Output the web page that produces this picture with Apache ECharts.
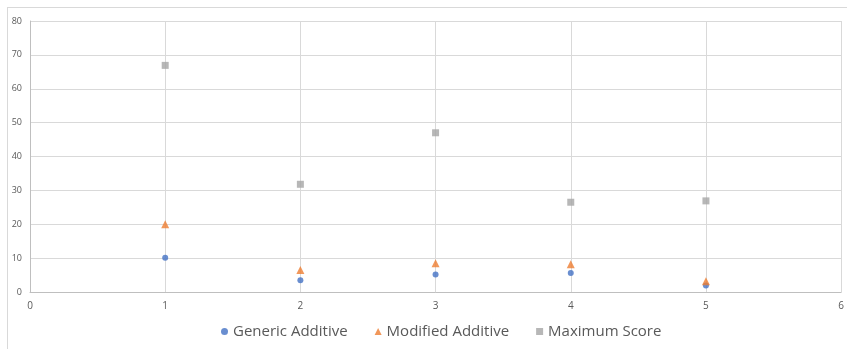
<!DOCTYPE html>
<html>
<head>
<meta charset="utf-8">
<script src="https://cdn.jsdelivr.net/npm/echarts@6/dist/echarts.min.js"></script>
<style>
  html, body { margin: 0; padding: 0; background: #fff; }
  #chart { width: 847px; height: 349px; }
</style>
</head>
<body>
<div id="chart"></div>
<script>
// Scores per item for each scoring method
const xValues = [1, 2, 3, 4, 5];
const genericAdditive = [10.1, 3.5, 5.2, 5.6, 1.9];
const modifiedAdditive = [20.0, 6.5, 8.5, 8.2, 3.2];
const maximumScore = [66.9, 31.8, 47.0, 26.5, 26.9];
const seriesNames = ['Generic Additive', 'Modified Additive', 'Maximum Score'];

const pairs = ys => xValues.map((x, i) => [x, ys[i]]);

const chart = echarts.init(document.getElementById('chart'), null, { renderer: 'canvas' });
const gridColor = '#d9d9d9';
const labelColor = '#595959';

chart.setOption({
  animation: false,
  grid: { left: 30, right: 4, top: 21, bottom: 57, containLabel: false },
  legend: {
    bottom: 5,
    left: 216,
    itemWidth: 7,
    itemHeight: 7,
    itemGap: 27,
    textStyle: { color: labelColor, fontSize: 15, fontFamily: 'Open Sans' },
    data: [
      { name: seriesNames[0], icon: 'circle' },
      { name: seriesNames[1], icon: 'triangle' },
      { name: seriesNames[2], icon: 'rect' }
    ]
  },
  xAxis: {
    type: 'value', min: 0, max: 6, interval: 1,
    axisLine: { show: true, lineStyle: { color: '#bfbfbf' } },
    axisTick: { show: false },
    axisLabel: { color: labelColor, fontSize: 10, fontFamily: 'Open Sans', margin: 9 },
    splitLine: { show: true, lineStyle: { color: gridColor } }
  },
  yAxis: {
    type: 'value', min: 0, max: 80, interval: 10,
    axisLine: { show: true, lineStyle: { color: '#bfbfbf' } },
    axisTick: { show: false },
    axisLabel: { color: labelColor, fontSize: 9, fontFamily: 'Open Sans', margin: 8 },
    splitLine: { show: true, lineStyle: { color: gridColor } }
  },
  graphic: [
    { type: 'line', shape: { x1: 7, y1: 7.5, x2: 847, y2: 7.5 }, style: { stroke: gridColor, lineWidth: 1 } },
    { type: 'line', shape: { x1: 7.5, y1: 7, x2: 7.5, y2: 349 }, style: { stroke: gridColor, lineWidth: 1 } }
  ],
  series: [
    { name: seriesNames[0], type: 'scatter', symbol: 'circle', symbolSize: 6,
      itemStyle: { color: '#4472c4' }, data: pairs(genericAdditive) },
    { name: seriesNames[1], type: 'scatter', symbol: 'triangle', symbolSize: 8,
      itemStyle: { color: '#ed7d31' }, data: pairs(modifiedAdditive) },
    { name: seriesNames[2], type: 'scatter', symbol: 'rect', symbolSize: 7,
      itemStyle: { color: '#a5a5a5' }, data: pairs(maximumScore) }
  ]
});
</script>
</body>
</html>
